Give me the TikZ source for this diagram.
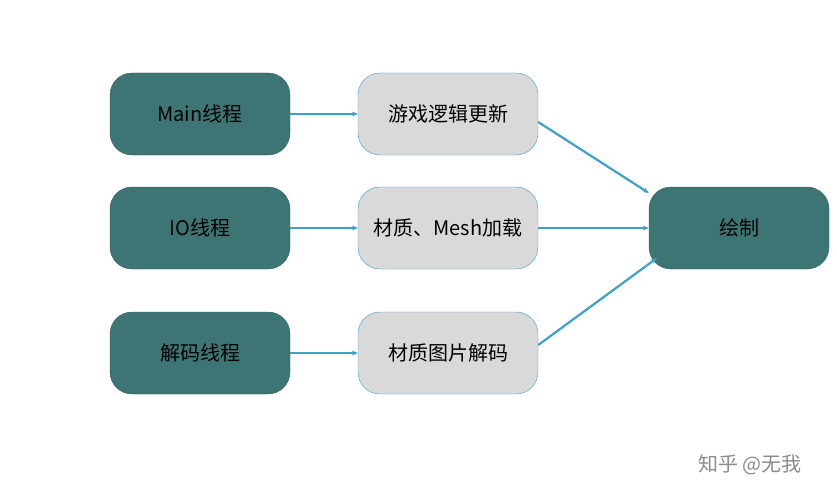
\documentclass[tikz,border=0pt]{standalone}
\usepackage{fontspec}
\setmainfont{Liberation Sans}
\newfontfamily\cjk{Noto Sans CJK SC}
\usetikzlibrary{arrows.meta}
\definecolor{teal1}{HTML}{3D7574}
\definecolor{gray1}{HTML}{D9D9D9}
\definecolor{blue1}{HTML}{3FA0C8}
\begin{document}
\begin{tikzpicture}[x=1pt,y=-1pt,
  darkbox/.style={fill=teal1,draw=teal1!80!black,rounded corners=22pt,minimum width=180pt,minimum height=82pt,font=\cjk\fontsize{20}{24}\selectfont,text=black},
  lightbox/.style={fill=gray1,draw=blue1,rounded corners=22pt,minimum width=180pt,minimum height=82pt,font=\cjk\fontsize{20}{24}\selectfont,text=black},
  arr/.style={draw=blue1,line width=2.2pt,-{Stealth[length=6pt,width=5pt]}}]
\useasboundingbox (0,0) rectangle (837,500);
\node[darkbox] (main) at (200,114) {Main线程};
\node[darkbox] (io) at (200,228) {IO线程};
\node[darkbox] (dec) at (200,353) {解码线程};
\node[lightbox] (m1) at (448,114) {游戏逻辑更新};
\node[lightbox] (m2) at (448,228) {材质、Mesh加载};
\node[lightbox] (m3) at (448,353) {材质图片解码};
\node[darkbox] (draw) at (739,228) {绘制};
\draw[arr] (main) -- (m1);
\draw[arr] (io) -- (m2);
\draw[arr] (dec) -- (m3);
\draw[arr] (m1.east) ++(0,8) coordinate (a1) -- (draw.north west |- 0,193) coordinate (b1);
\draw[arr] (m2) -- (draw);
\draw[arr] (m3.east) ++(0,-8) coordinate (a3) -- (657,258) coordinate (b3);
\node[font=\cjk\fontsize{20}{24}\selectfont,text=black!45] (wm) at (750,465) {知乎 @无我};
\end{tikzpicture}
\end{document}
